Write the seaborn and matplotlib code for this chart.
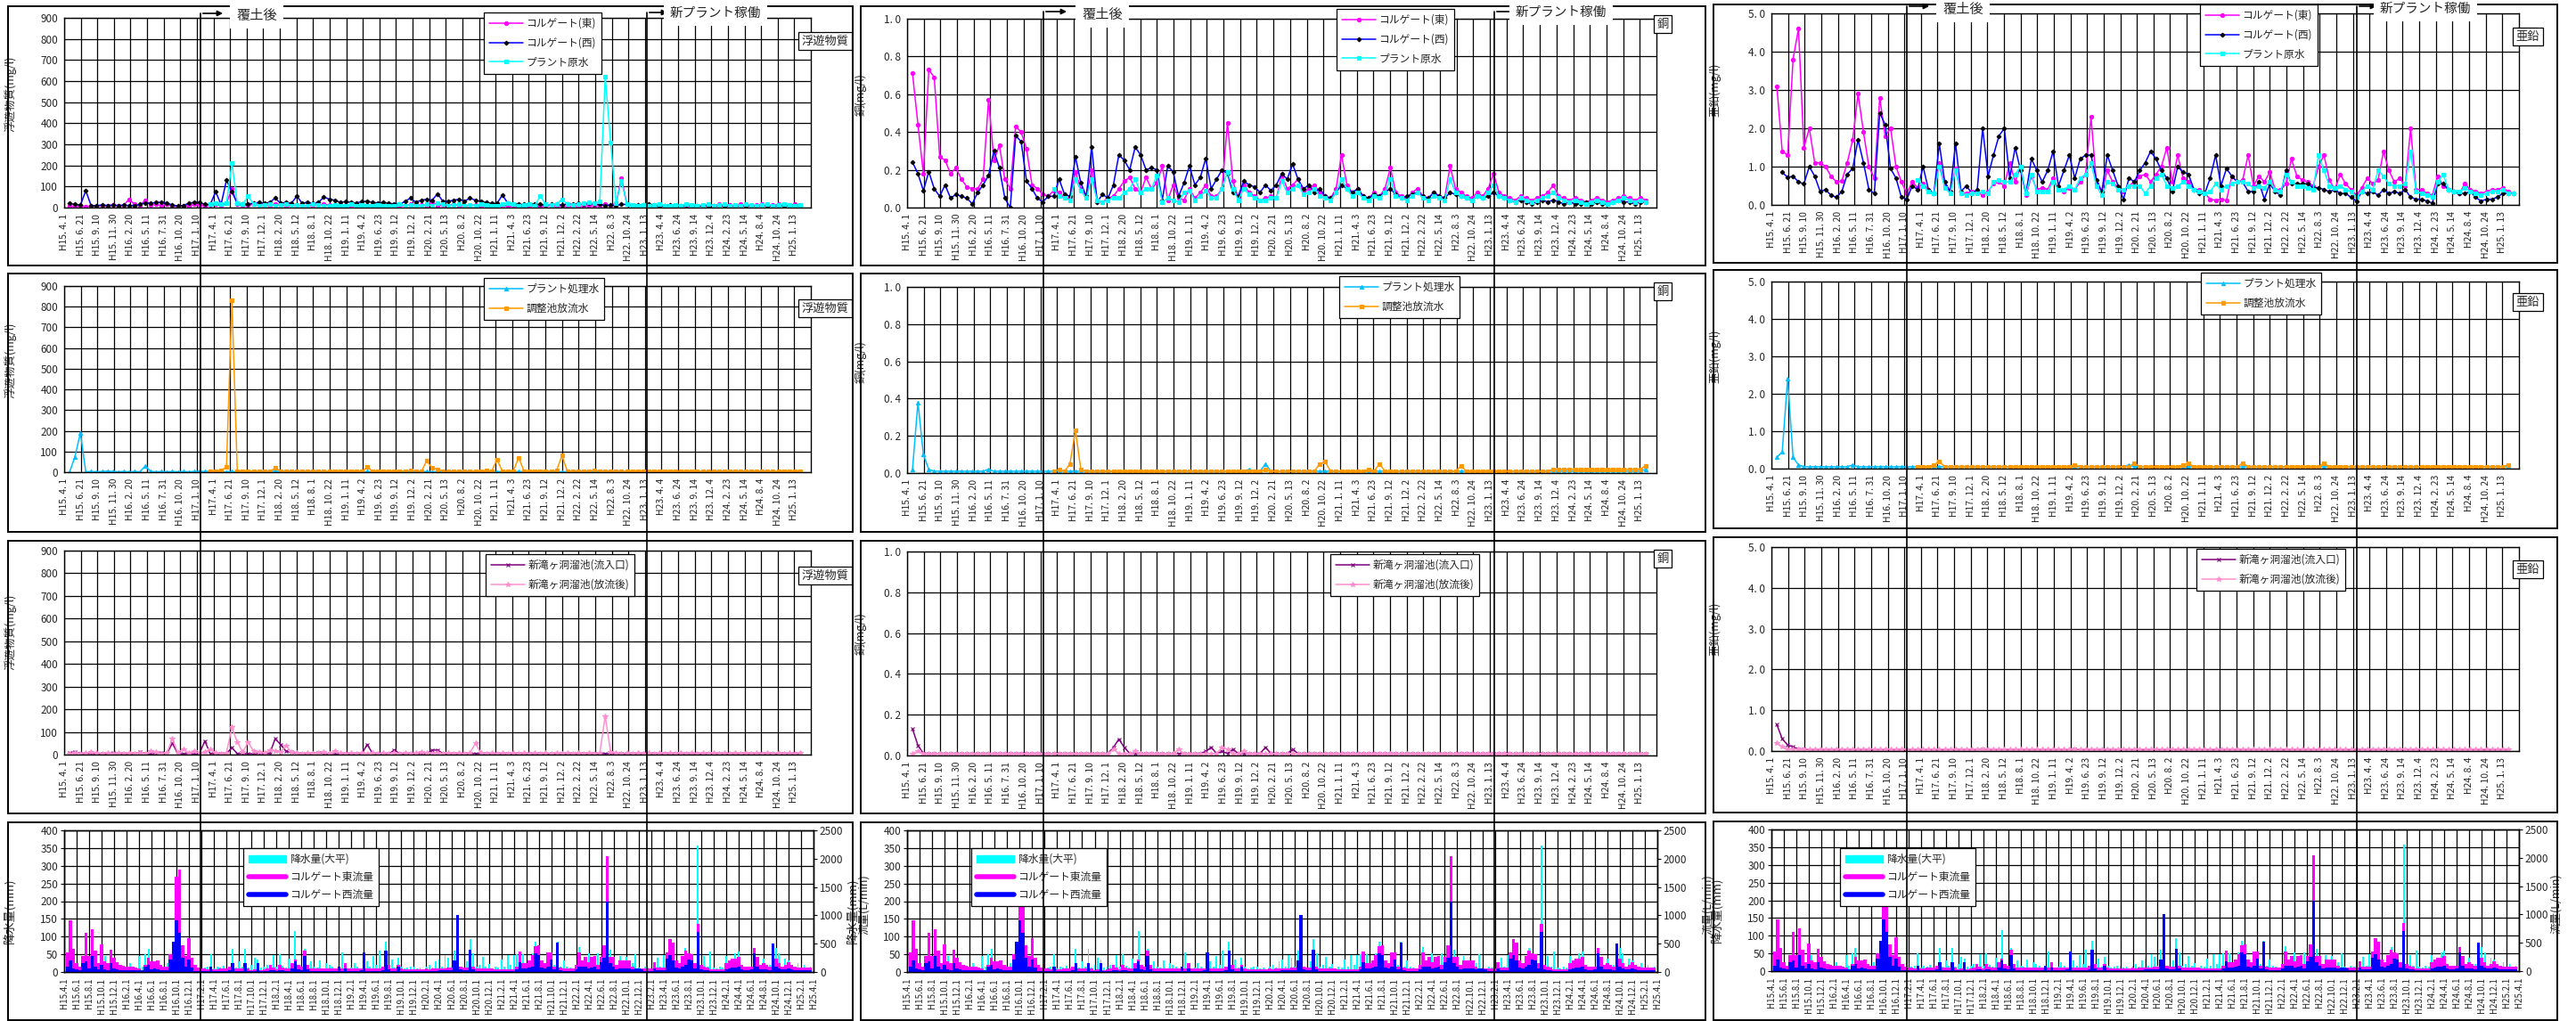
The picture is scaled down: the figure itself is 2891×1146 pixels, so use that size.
import numpy as np
import pandas as pd
import seaborn as sns
import matplotlib.pyplot as plt
from matplotlib.patches import Rectangle, Patch, FancyArrowPatch
from matplotlib.lines import Line2D

sns.set_theme(style="white")
plt.rcParams["font.family"] = ["Noto Sans CJK JP", "DejaVu Sans"]
plt.rcParams["axes.unicode_minus"] = False

W, H = 2891, 1146

# x tick labels of the water quality charts (one label every 81 days)
Q_LABELS = ["H15. 4. 1", "H15. 6. 21", "H15. 9. 10", "H15. 11. 30", "H16. 2. 20", "H16. 5. 11",
            "H16. 7. 31", "H16. 10. 20", "H17. 1. 10", "H17. 4. 1", "H17. 6. 21", "H17. 9. 10",
            "H17. 12. 1", "H18. 2. 20", "H18. 5. 12", "H18. 8. 1", "H18. 10. 22", "H19. 1. 11",
            "H19. 4. 2", "H19. 6. 23", "H19. 9. 12", "H19. 12. 2", "H20. 2. 21", "H20. 5. 13",
            "H20. 8. 2", "H20. 10. 22", "H21. 1. 11", "H21. 4. 3", "H21. 6. 23", "H21. 9. 12",
            "H21. 12. 2", "H22. 2. 22", "H22. 5. 14", "H22. 8. 3", "H22. 10. 24", "H23. 1. 13",
            "H23. 4. 4", "H23. 6. 24", "H23. 9. 14", "H23. 12. 4", "H24. 2. 23", "H24. 5. 14",
            "H24. 8. 4", "H24. 10. 24", "H25. 1. 13"]

# x tick labels of the rain / flow charts (every 2 months)
R_LABELS = ["H15.4.1", "H15.6.1", "H15.8.1", "H15.10.1", "H15.12.1",
            "H16.2.1", "H16.4.1", "H16.6.1", "H16.8.1", "H16.10.1", "H16.12.1",
            "H17.2.1", "H17.4.1", "H17.6.1", "H17.8.1", "H17.10.1", "H17.12.1",
            "H18.2.1", "H18.4.1", "H18.6.1", "H18.8.1", "H18.10.1", "H18.12.1",
            "H19.2.1", "H19.4.1", "H19.6.1", "H19.8.1", "H19.10.1", "H19.12.1",
            "H20.2.1", "H20.4.1", "H20.6.1", "H20.8.1", "H20.10.1", "H20.12.1",
            "H21.2.1", "H21.4.1", "H21.6.1", "H21.8.1", "H21.10.1", "H21.12.1",
            "H22.2.1", "H22.4.1", "H22.6.1", "H22.8.1", "H22.10.1", "H22.12.1",
            "H23.2.1", "H23.4.1", "H23.6.1", "H23.8.1", "H23.10.1", "H23.12.1",
            "H24.2.1", "H24.4.1", "H24.6.1", "H24.8.1", "H24.10.1", "H24.12.1",
            "H25.2.1", "H25.4.1"]

N = None
# ---------------- 浮遊物質 (mg/l), samples 3 per label interval ----------------
SS_EAST = [N, 8, 5, 10, 5, 8, 6, 10, 8, 12, 8, 10, 40, 15, 10,
           35, 12, 15, 10, 15, 8, 5, 10, 8, 15, 12, 10, 12, 15, 10,
           20, 90, 15, 10, 12, 15, 10, 12, 10, 15, 12, 10, 8, 12, 10,
           8, 10, 12, 15, 12, 10, 8, 12, 10, 8, 10, 12, 10, 8, 10,
           12, 10, 8, 10, 15, 10, 12, 10, 30, 10, 12, 10, 15, 10, 8,
           10, 12, 8, 10, 5, 8, 10, 8, 6, 5, 8, 10, 8, 6, 8,
           10, 5, 8, 6, 5, 8, 6, 10, 8, 10, 15, 10, 20, 140, 15,
           10, 8, 10, 8, 6, 8, 5, 8, 6, 5, 8, 6, 5, 8, 10,
           8, 15, 10, 12, 10, 15, 12, 10, 12, 15, 10, 12, 15, 10, 12,
           15, 12]
SS_WEST = [N, 20, 15, 12, 80, 8, 10, 12, 10, 12, 10, 12, 10, 10, 15,
           22, 20, 25, 25, 22, 12, 8, 10, 20, 25, 25, 15, 15, 75, 15,
           130, 75, 20, 15, 18, 20, 25, 20, 25, 45, 20, 25, 20, 55, 20,
           25, 20, 25, 50, 40, 35, 25, 28, 25, 22, 28, 30, 25, 22, 25,
           20, 18, 15, 30, 45, 25, 35, 40, 35, 65, 30, 30, 35, 40, 30,
           45, 35, 30, 25, 20, 20, 60, 20, 18, 15, 15, 18, 15, 15, 12,
           15, 15, 12, 18, 15, 20, 15, 20, 15, 15, 10, 12, 10, 15, 15,
           10, 12, 12, 15, 12, 10, 10, 12, 10, 10, 12, 10, 10, 8, 10,
           10, 8, 8, 10, 8, 8, 10, 10, 8, 10, 10, 8, 10, 8, 10,
           10, 10]
SS_RAW = [N, N, N, N, N, N, N, N, N, N, N, N, N, N, N,
          N, N, N, N, N, N, N, N, N, N, N, N, 15, 20, 15,
          20, 210, 20, 15, 55, 15, 10, 12, 15, 10, 12, 15, 10, 12, 8,
          10, 15, 12, 10, 8, 12, 10, 8, 15, 10, 12, 8, 10, 12, 10,
          8, 10, 15, 10, 12, 10, 8, 15, 10, 20, 15, 10, 12, 15, 10,
          12, 10, 15, 12, 10, 8, 15, 20, 15, 10, 12, 15, 10, 55, 15,
          12, 15, 40, 15, 12, 15, 20, 25, 20, 30, 620, 310, 20, 125, 15,
          12, 10, 12, 10, 12, 15, 10, 8, 12, 10, 15, 12, 10, 12, 15,
          10, 12, 15, 10, 12, 10, 15, 12, 10, 12, 15, 10, 12, 15, 12,
          10, 12]

SS_TREAT = [N, 0, 75, 190, 2, 3, 2, 3, 5, 3, 2, 3, 2, 3, 2,
            30, 3, 2, 3, 2, 3, 2, 3, 2, 3, 5, 3, 5, 3, 2,
            2, 3, 2, 2, 3, 2, 2, 3, 2, 5, 2, 2, 3, 2, 2,
            2, 3, 2, 2, 3, 2, 2, 2, 3, 2, 2, 3, 2, 2, 2,
            3, 2, 2, 3, 2, 2, 2, 3, 2, 2, 3, 2, 2, 2, 3,
            2, 2, 3, 2, 2, 2, 3, 2, 2, 3, 2, 2, 2, 3, 2,
            2, 3, 2, 2, 2, 3, 2, 2, 3, 2, 2, 2, 3, 2, 2,
            3, 2, 2, 2, 3, 2, 2, 3, 2, 2, 2, 3, 2, 2, 3,
            2, 2, 2, 3, 2, 2, 3, 2, 2, 2, 3, 2, 2, 3, 2,
            2, 3]
SS_POND = [N, N, N, N, N, N, N, N, N, N, N, N, N, N, N,
           N, N, N, N, N, N, N, N, N, N, N, N, 5, 5, 8,
           25, 830, 5, 5, 3, 5, 3, 5, 3, 20, 5, 3, 5, 3, 5,
           3, 5, 3, 5, 3, 5, 3, 5, 3, 5, 3, 25, 5, 3, 5,
           3, 5, 3, 5, 8, 5, 3, 55, 20, 15, 5, 3, 5, 3, 5,
           3, 5, 3, 8, 5, 60, 5, 3, 5, 70, 5, 3, 5, 3, 5,
           3, 8, 80, 5, 3, 5, 3, 5, 8, 5, 3, 5, 3, 5, 3,
           5, 3, 5, 3, 5, 3, 5, 3, 5, 3, 5, 3, 5, 3, 5,
           3, 5, 3, 5, 3, 5, 3, 5, 3, 5, 3, 5, 3, 5, 3,
           5, 3]

SS_IN = [N, 8, 12, 5, 3, 5, 3, 5, 3, 8, 5, 3, 5, 3, 10,
         5, 3, 5, 8, 5, 50, 5, 3, 5, 3, 5, 60, 5, 3, 5,
         5, 30, 5, 3, 5, 3, 5, 3, 5, 70, 45, 15, 10, 5, 5,
         3, 5, 8, 5, 3, 5, 3, 5, 3, 5, 3, 45, 5, 3, 5,
         3, 20, 5, 3, 5, 3, 5, 3, 20, 20, 5, 3, 5, 3, 5,
         3, 5, 3, 5, 3, 5, 3, 5, 3, 5, 3, 5, 3, 5, 3,
         5, 3, 5, 3, 5, 3, 5, 3, 5, 3, 5, 3, 5, 3, 5,
         3, 5, 3, 5, 3, 5, 3, 5, 3, 5, 3, 5, 3, 5, 3,
         5, 3, 5, 3, 5, 3, 5, 3, 5, 3, 5, 3, 5, 3, 5,
         3, 5]
SS_OUT = [N, 5, 8, 5, 8, 10, 8, 5, 8, 5, 8, 5, 8, 5, 8,
          5, 15, 10, 5, 8, 70, 8, 25, 8, 15, 8, 10, 25, 8, 5,
          8, 120, 55, 10, 55, 15, 10, 8, 20, 15, 10, 40, 10, 8, 5,
          8, 5, 8, 10, 5, 15, 8, 5, 8, 5, 8, 5, 8, 5, 8,
          5, 8, 5, 8, 5, 8, 10, 8, 5, 8, 5, 8, 5, 8, 5,
          8, 50, 8, 5, 8, 5, 8, 5, 8, 5, 8, 5, 8, 5, 8,
          5, 8, 5, 8, 5, 8, 5, 8, 5, 8, 170, 10, 8, 5, 8,
          5, 8, 5, 8, 5, 8, 5, 8, 5, 8, 5, 8, 5, 8, 5,
          8, 5, 8, 5, 8, 5, 8, 5, 8, 5, 8, 5, 8, 5, 8,
          5, 8]

# ---------------- 銅 (mg/l) ----------------
CU_EAST = [N, 0.71, 0.44, 0.18, 0.73, 0.69, 0.27, 0.25, 0.18, 0.21, 0.15, 0.11, 0.10, 0.10, 0.15,
           0.57, 0.25, 0.33, 0.15, 0.10, 0.43, 0.40, 0.31, 0.12, 0.10, 0.07, 0.06, 0.09, 0.08, 0.05,
           0.05, 0.19, 0.10, 0.06, 0.20, 0.04, 0.03, 0.05, 0.06, 0.10, 0.14, 0.16, 0.10, 0.08, 0.16,
           0.10, 0.13, 0.22, 0.04, 0.12, 0.05, 0.04, 0.10, 0.05, 0.08, 0.12, 0.06, 0.06, 0.10, 0.45,
           0.14, 0.05, 0.12, 0.08, 0.06, 0.04, 0.05, 0.06, 0.05, 0.17, 0.10, 0.12, 0.15, 0.08, 0.10,
           0.12, 0.08, 0.06, 0.05, 0.10, 0.28, 0.12, 0.08, 0.10, 0.06, 0.05, 0.08, 0.06, 0.10, 0.21,
           0.08, 0.06, 0.05, 0.08, 0.10, 0.06, 0.05, 0.08, 0.06, 0.05, 0.22, 0.10, 0.08, 0.06, 0.05,
           0.08, 0.06, 0.10, 0.18, 0.08, 0.06, 0.05, 0.04, 0.06, 0.05, 0.04, 0.05, 0.06, 0.08, 0.12,
           0.06, 0.05, 0.04, 0.05, 0.04, 0.03, 0.04, 0.05, 0.04, 0.03, 0.04, 0.05, 0.06, 0.05, 0.04,
           0.05, 0.04]
CU_WEST = [N, 0.24, 0.18, 0.09, 0.19, 0.10, 0.06, 0.12, 0.05, 0.07, 0.06, 0.05, 0.02, 0.08, 0.12,
           0.17, 0.30, 0.21, 0.05, 0.00, 0.38, 0.35, 0.14, 0.10, 0.05, 0.03, 0.06, 0.06, 0.15, 0.07,
           0.06, 0.27, 0.13, 0.06, 0.32, 0.03, 0.07, 0.05, 0.12, 0.28, 0.25, 0.20, 0.32, 0.28, 0.20,
           0.21, 0.20, 0.04, 0.22, 0.19, 0.06, 0.13, 0.22, 0.12, 0.16, 0.26, 0.10, 0.15, 0.20, 0.18,
           0.08, 0.06, 0.14, 0.12, 0.11, 0.08, 0.12, 0.09, 0.12, 0.18, 0.15, 0.23, 0.15, 0.10, 0.12,
           0.08, 0.10, 0.06, 0.05, 0.08, 0.12, 0.10, 0.08, 0.10, 0.06, 0.05, 0.07, 0.06, 0.08, 0.10,
           0.07, 0.05, 0.06, 0.07, 0.08, 0.06, 0.05, 0.08, 0.06, 0.05, 0.08, 0.07, 0.06, 0.05, 0.04,
           0.06, 0.05, 0.06, 0.08, 0.06, 0.05, 0.04, 0.03, 0.04, 0.03, 0.02, 0.03, 0.04, 0.03, 0.04,
           0.03, 0.02, 0.03, 0.02, 0.02, 0.03, 0.02, 0.03, 0.02, 0.02, 0.03, 0.04, 0.03, 0.03, 0.02,
           0.03, 0.03]
CU_RAW = [N, N, N, N, N, N, N, N, N, N, N, N, N, N, N,
          N, N, N, N, N, N, N, N, N, N, N, N, 0.10, 0.06, 0.05,
          0.04, 0.15, 0.09, 0.05, 0.15, 0.04, 0.03, 0.04, 0.05, 0.05, 0.08, 0.10, 0.15, 0.08, 0.10,
          0.10, 0.17, 0.03, 0.05, 0.04, 0.03, 0.08, 0.09, 0.04, 0.06, 0.09, 0.05, 0.05, 0.10, 0.19,
          0.10, 0.04, 0.10, 0.07, 0.05, 0.04, 0.04, 0.05, 0.05, 0.14, 0.08, 0.10, 0.12, 0.07, 0.08,
          0.10, 0.06, 0.05, 0.04, 0.08, 0.15, 0.10, 0.06, 0.08, 0.05, 0.04, 0.06, 0.05, 0.08, 0.15,
          0.06, 0.05, 0.04, 0.06, 0.08, 0.05, 0.04, 0.06, 0.05, 0.04, 0.15, 0.08, 0.06, 0.05, 0.04,
          0.06, 0.05, 0.08, 0.12, 0.06, 0.05, 0.04, 0.03, 0.05, 0.04, 0.03, 0.04, 0.05, 0.06, 0.08,
          0.05, 0.04, 0.03, 0.04, 0.03, 0.02, 0.03, 0.04, 0.03, 0.02, 0.03, 0.04, 0.05, 0.04, 0.03,
          0.04, 0.03]

CU_TREAT = [N, 0.02, 0.38, 0.10, 0.02, 0.01, 0.01, 0.01, 0.01, 0.01, 0.01, 0.01, 0.01, 0.01, 0.01,
            0.02, 0.01, 0.01, 0.01, 0.01, 0.01, 0.01, 0.01, 0.01, 0.01, 0.01, 0.01, 0.01, 0.01, 0.01,
            0.01, 0.01, 0.01, 0.01, 0.01, 0.01, 0.01, 0.01, 0.01, 0.01, 0.01, 0.01, 0.01, 0.01, 0.01,
            0.01, 0.01, 0.01, 0.01, 0.01, 0.01, 0.01, 0.01, 0.01, 0.01, 0.01, 0.01, 0.01, 0.01, 0.01,
            0.01, 0.01, 0.01, 0.02, 0.01, 0.01, 0.05, 0.01, 0.01, 0.01, 0.01, 0.01, 0.01, 0.01, 0.01,
            0.01, 0.01, 0.01, 0.01, 0.01, 0.01, 0.01, 0.01, 0.01, 0.01, 0.01, 0.01, 0.01, 0.01, 0.01,
            0.01, 0.01, 0.01, 0.01, 0.01, 0.01, 0.01, 0.01, 0.01, 0.01, 0.01, 0.01, 0.01, 0.01, 0.01,
            0.01, 0.01, 0.01, 0.01, 0.01, 0.01, 0.01, 0.01, 0.01, 0.01, 0.01, 0.01, 0.01, 0.01, 0.01,
            0.01, 0.01, 0.01, 0.01, 0.01, 0.01, 0.01, 0.01, 0.01, 0.01, 0.01, 0.01, 0.01, 0.01, 0.01,
            0.01, 0.02]
CU_POND = [N, N, N, N, N, N, N, N, N, N, N, N, N, N, N,
           N, N, N, N, N, N, N, N, N, N, N, N, 0.01, 0.02, 0.01,
           0.05, 0.23, 0.02, 0.01, 0.01, 0.01, 0.01, 0.01, 0.01, 0.01, 0.01, 0.01, 0.01, 0.01, 0.01,
           0.01, 0.01, 0.01, 0.01, 0.01, 0.01, 0.01, 0.01, 0.01, 0.01, 0.01, 0.01, 0.01, 0.01, 0.01,
           0.01, 0.01, 0.01, 0.01, 0.01, 0.01, 0.02, 0.01, 0.01, 0.01, 0.01, 0.01, 0.01, 0.01, 0.01,
           0.01, 0.05, 0.06, 0.01, 0.01, 0.01, 0.01, 0.01, 0.01, 0.01, 0.02, 0.01, 0.05, 0.01, 0.01,
           0.01, 0.01, 0.01, 0.01, 0.01, 0.01, 0.01, 0.01, 0.01, 0.01, 0.01, 0.01, 0.04, 0.01, 0.01,
           0.01, 0.01, 0.01, 0.01, 0.01, 0.01, 0.01, 0.01, 0.01, 0.01, 0.01, 0.01, 0.01, 0.01, 0.02,
           0.02, 0.02, 0.02, 0.02, 0.02, 0.02, 0.02, 0.02, 0.02, 0.02, 0.02, 0.02, 0.02, 0.02, 0.02,
           0.02, 0.04]

CU_IN = [N, 0.13, 0.05, 0.01, 0.01, 0.01, 0.01, 0.01, 0.01, 0.01, 0.01, 0.01, 0.01, 0.01, 0.01,
         0.01, 0.01, 0.01, 0.01, 0.01, 0.01, 0.01, 0.01, 0.01, 0.01, 0.01, 0.01, 0.01, 0.01, 0.01,
         0.01, 0.01, 0.01, 0.01, 0.01, 0.01, 0.01, 0.01, 0.04, 0.08, 0.04, 0.01, 0.01, 0.01, 0.01,
         0.01, 0.01, 0.01, 0.01, 0.01, 0.01, 0.01, 0.01, 0.01, 0.01, 0.02, 0.04, 0.01, 0.02, 0.01,
         0.03, 0.01, 0.01, 0.01, 0.01, 0.01, 0.04, 0.01, 0.01, 0.01, 0.01, 0.03, 0.01, 0.01, 0.01,
         0.01, 0.01, 0.01, 0.01, 0.01, 0.01, 0.01, 0.01, 0.01, 0.01, 0.01, 0.01, 0.01, 0.01, 0.01,
         0.01, 0.01, 0.01, 0.01, 0.01, 0.01, 0.01, 0.01, 0.01, 0.01, 0.01, 0.01, 0.01, 0.01, 0.01,
         0.01, 0.01, 0.01, 0.01, 0.01, 0.01, 0.01, 0.01, 0.01, 0.01, 0.01, 0.01, 0.01, 0.01, 0.01,
         0.01, 0.01, 0.01, 0.01, 0.01, 0.01, 0.01, 0.01, 0.01, 0.01, 0.01, 0.01, 0.01, 0.01, 0.01,
         0.01, 0.01]
CU_OUT = [N, 0.01, 0.02, 0.01, 0.01, 0.01, 0.01, 0.01, 0.01, 0.01, 0.01, 0.01, 0.01, 0.01, 0.01,
          0.01, 0.01, 0.01, 0.01, 0.01, 0.01, 0.01, 0.01, 0.01, 0.01, 0.01, 0.01, 0.01, 0.01, 0.01,
          0.01, 0.01, 0.01, 0.01, 0.01, 0.01, 0.01, 0.01, 0.03, 0.01, 0.01, 0.01, 0.02, 0.01, 0.01,
          0.01, 0.01, 0.01, 0.01, 0.01, 0.03, 0.01, 0.01, 0.01, 0.01, 0.01, 0.01, 0.01, 0.04, 0.03,
          0.01, 0.01, 0.02, 0.01, 0.01, 0.01, 0.01, 0.01, 0.01, 0.01, 0.01, 0.01, 0.01, 0.01, 0.01,
          0.01, 0.01, 0.01, 0.01, 0.01, 0.01, 0.01, 0.01, 0.01, 0.01, 0.01, 0.01, 0.01, 0.01, 0.01,
          0.01, 0.01, 0.01, 0.01, 0.01, 0.01, 0.01, 0.01, 0.01, 0.01, 0.01, 0.01, 0.01, 0.01, 0.01,
          0.01, 0.01, 0.01, 0.01, 0.01, 0.01, 0.01, 0.01, 0.01, 0.01, 0.01, 0.01, 0.01, 0.01, 0.01,
          0.01, 0.01, 0.01, 0.01, 0.01, 0.01, 0.01, 0.01, 0.01, 0.01, 0.01, 0.01, 0.01, 0.01, 0.01,
          0.01, 0.01]

# ---------------- 亜鉛 (mg/l) ----------------
ZN_EAST = [N, 3.1, 1.4, 1.3, 3.8, 4.6, 1.5, 2.0, 1.1, 1.1, 1.0, 0.75, 0.6, 0.62, 1.1,
           1.7, 2.9, 1.9, 1.0, 0.7, 2.8, 1.8, 2.0, 1.0, 0.6, 0.3, 0.6, 0.45, 0.55, 0.4,
           0.3, 1.1, 0.5, 0.35, 0.95, 0.3, 0.3, 0.35, 0.35, 0.25, 0.35, 0.55, 0.6, 0.5, 1.1,
           0.6, 1.0, 0.25, 0.75, 0.4, 0.45, 0.4, 0.7, 0.4, 0.35, 0.45, 0.4, 0.6, 0.8, 2.3,
           0.55, 0.35, 0.9, 0.6, 0.45, 0.35, 0.5, 0.6, 0.75, 0.8, 0.6, 0.8, 1.0, 1.5, 0.6,
           1.3, 0.7, 0.6, 0.4, 0.4, 0.3, 0.15, 0.12, 0.15, 0.12, 0.75, 0.6, 0.65, 1.3, 0.5,
           0.75, 0.6, 0.85, 0.4, 0.4, 0.55, 1.2, 0.75, 0.65, 0.6, 0.5, 1.0, 1.3, 0.65, 0.4,
           0.8, 0.55, 0.4, 0.25, 0.45, 0.7, 0.55, 0.65, 1.4, 0.9, 0.6, 0.7, 0.5, 2.0, 0.4,
           0.4, 0.3, 0.25, 0.75, 0.5, 0.4, 0.35, 0.3, 0.55, 0.4, 0.35, 0.3, 0.35, 0.4, 0.4,
           0.45, 0.35, 0.3]
ZN_WEST = [N, N, 0.85, 0.72, 0.75, 0.6, 0.55, 1.0, 0.75, 0.35, 0.4, 0.25, 0.2, 0.35, 0.8,
           0.95, 1.7, 1.1, 0.4, 0.3, 2.4, 2.1, 0.95, 0.7, 0.2, 0.15, 0.5, 0.4, 1.0, 0.4,
           0.3, 1.6, 0.6, 0.35, 1.6, 0.35, 0.5, 0.3, 0.4, 2.0, 0.75, 1.3, 1.8, 2.0, 0.7,
           1.5, 0.9, 0.3, 1.2, 0.9, 0.6, 0.9, 1.4, 0.5, 0.9, 1.3, 0.7, 1.2, 1.3, 1.3,
           0.65, 0.35, 1.3, 0.9, 0.5, 0.15, 0.7, 0.6, 0.9, 1.1, 1.4, 1.2, 0.9, 0.7, 0.35,
           1.0, 0.85, 0.8, 0.4, 0.3, 0.3, 0.7, 1.3, 0.5, 0.95, 0.75, 0.6, 0.6, 0.35, 0.35,
           0.6, 0.15, 0.55, 0.35, 0.25, 0.9, 0.55, 0.55, 0.55, 0.55, 0.45, 0.45, 0.4, 0.35, 0.4,
           0.3, 0.3, 0.2, 0.1, 0.35, 0.3, 0.35, 0.25, 0.4, 0.3, 0.35, 0.3, 0.4, 0.2, 0.15,
           0.15, 0.1, 0.05, 0.55, 0.55, 0.4, 0.35, 0.3, 0.3, 0.35, 0.2, 0.1, 0.15, 0.15, 0.2,
           0.3, 0.3, 0.3]
ZN_RAW = [N, N, N, N, N, N, N, N, N, N, N, N, N, N, N,
          N, N, N, N, N, N, N, N, N, N, N, N, 0.65, 0.5, 0.35,
          0.3, 1.0, 0.45, 0.3, 0.9, 0.3, 0.25, 0.3, 0.3, 0.35, 0.3, 0.6, 0.65, 0.6, 0.6,
          0.8, 1.0, 0.3, 0.8, 0.35, 0.35, 0.35, 0.6, 0.4, 0.4, 0.5, 0.4, 0.7, 0.8, 1.1,
          0.5, 0.25, 0.6, 0.55, 0.4, 0.4, 0.5, 0.5, 0.5, 0.3, 0.5, 0.7, 0.8, 0.5, 0.45,
          0.5, 0.6, 0.5, 0.4, 0.35, 0.3, 0.35, 0.55, 0.4, 0.5, 0.55, 0.6, 0.6, 0.55, 0.45,
          0.5, 0.45, 0.6, 0.4, 0.35, 0.8, 0.6, 0.5, 0.5, 0.45, 0.4, 1.3, 0.9, 0.5, 0.45,
          0.5, 0.4, 0.35, 0.2, 0.35, 0.5, 0.4, 0.9, 0.75, 0.55, 0.5, 0.5, 0.55, 1.4, 0.35,
          0.3, 0.25, 0.2, 0.6, 0.8, 0.4, 0.35, 0.35, 0.45, 0.35, 0.3, 0.25, 0.3, 0.35, 0.35,
          0.4, 0.3, 0.3]

ZN_TREAT = [N, 0.3, 0.45, 2.4, 0.3, 0.1, 0.05, 0.05, 0.05, 0.05, 0.05, 0.05, 0.05, 0.05, 0.05,
            0.1, 0.05, 0.05, 0.05, 0.05, 0.05, 0.05, 0.05, 0.05, 0.05, 0.05, 0.05, 0.05, 0.05, 0.05,
            0.05, 0.05, 0.05, 0.05, 0.05, 0.05, 0.05, 0.05, 0.05, 0.05, 0.05, 0.05, 0.05, 0.05, 0.05,
            0.05, 0.05, 0.05, 0.05, 0.05, 0.05, 0.05, 0.05, 0.05, 0.05, 0.05, 0.05, 0.05, 0.05, 0.05,
            0.05, 0.05, 0.05, 0.05, 0.05, 0.05, 0.1, 0.05, 0.05, 0.05, 0.05, 0.05, 0.05, 0.05, 0.05,
            0.05, 0.05, 0.05, 0.05, 0.05, 0.05, 0.05, 0.05, 0.05, 0.05, 0.05, 0.05, 0.05, 0.05, 0.05,
            0.05, 0.05, 0.05, 0.05, 0.05, 0.05, 0.05, 0.05, 0.05, 0.05, 0.05, 0.05, 0.05, 0.05, 0.05,
            0.05, 0.05, 0.05, 0.05, 0.05, 0.05, 0.05, 0.05, 0.05, 0.05, 0.05, 0.05, 0.05, 0.05, 0.05,
            0.05, 0.05, 0.05, 0.05, 0.05, 0.05, 0.05, 0.05, 0.05, 0.05, 0.05, 0.05, 0.05, 0.05, 0.05,
            0.05, 0.05]
ZN_POND = [N, N, N, N, N, N, N, N, N, N, N, N, N, N, N,
           N, N, N, N, N, N, N, N, N, N, N, N, 0.05, 0.05, 0.05,
           0.1, 0.2, 0.05, 0.05, 0.05, 0.05, 0.05, 0.05, 0.05, 0.05, 0.05, 0.05, 0.05, 0.05, 0.05,
           0.05, 0.05, 0.05, 0.05, 0.05, 0.05, 0.05, 0.05, 0.05, 0.05, 0.05, 0.1, 0.05, 0.05, 0.05,
           0.05, 0.05, 0.05, 0.05, 0.05, 0.05, 0.05, 0.15, 0.05, 0.05, 0.05, 0.05, 0.05, 0.05, 0.05,
           0.05, 0.1, 0.15, 0.05, 0.05, 0.05, 0.05, 0.05, 0.05, 0.05, 0.05, 0.05, 0.15, 0.05, 0.05,
           0.05, 0.05, 0.05, 0.05, 0.05, 0.05, 0.05, 0.05, 0.05, 0.05, 0.05, 0.05, 0.15, 0.05, 0.05,
           0.05, 0.05, 0.05, 0.05, 0.05, 0.05, 0.05, 0.05, 0.05, 0.05, 0.05, 0.05, 0.05, 0.05, 0.05,
           0.05, 0.05, 0.05, 0.05, 0.05, 0.05, 0.05, 0.05, 0.05, 0.05, 0.05, 0.05, 0.05, 0.05, 0.05,
           0.05, 0.1]

ZN_IN = [N, 0.65, 0.3, 0.15, 0.1, 0.05, 0.05, 0.03, 0.03, 0.03, 0.03, 0.03, 0.03, 0.03, 0.03,
         0.03, 0.03, 0.03, 0.03, 0.03, 0.03, 0.03, 0.03, 0.03, 0.03, 0.03, 0.03, 0.03, 0.03, 0.03,
         0.03, 0.03, 0.03, 0.03, 0.03, 0.03, 0.03, 0.03, 0.03, 0.05, 0.03, 0.03, 0.03, 0.03, 0.03,
         0.03, 0.03, 0.03, 0.03, 0.03, 0.03, 0.03, 0.03, 0.03, 0.03, 0.03, 0.05, 0.03, 0.03, 0.03,
         0.03, 0.03, 0.03, 0.03, 0.03, 0.03, 0.03, 0.03, 0.03, 0.03, 0.03, 0.03, 0.03, 0.03, 0.03,
         0.03, 0.03, 0.03, 0.03, 0.03, 0.03, 0.03, 0.03, 0.03, 0.03, 0.03, 0.03, 0.03, 0.03, 0.03,
         0.03, 0.03, 0.03, 0.03, 0.03, 0.03, 0.03, 0.03, 0.03, 0.03, 0.03, 0.03, 0.03, 0.03, 0.03,
         0.03, 0.03, 0.03, 0.03, 0.03, 0.03, 0.03, 0.03, 0.03, 0.03, 0.03, 0.03, 0.03, 0.03, 0.03,
         0.03, 0.03, 0.03, 0.03, 0.03, 0.03, 0.03, 0.03, 0.03, 0.03, 0.03, 0.03, 0.03, 0.03, 0.03,
         0.03, 0.03]
ZN_OUT = [N, 0.2, 0.1, 0.05, 0.05, 0.05, 0.05, 0.05, 0.05, 0.05, 0.05, 0.05, 0.05, 0.05, 0.05,
          0.05, 0.05, 0.05, 0.05, 0.05, 0.05, 0.05, 0.05, 0.05, 0.05, 0.05, 0.05, 0.05, 0.05, 0.05,
          0.05, 0.05, 0.05, 0.05, 0.05, 0.05, 0.05, 0.05, 0.05, 0.05, 0.05, 0.05, 0.05, 0.05, 0.05,
          0.05, 0.05, 0.05, 0.05, 0.05, 0.05, 0.05, 0.05, 0.05, 0.05, 0.05, 0.05, 0.05, 0.05, 0.05,
          0.05, 0.05, 0.05, 0.05, 0.05, 0.05, 0.05, 0.05, 0.05, 0.05, 0.05, 0.05, 0.05, 0.05, 0.05,
          0.05, 0.05, 0.05, 0.05, 0.05, 0.05, 0.05, 0.05, 0.05, 0.05, 0.05, 0.05, 0.05, 0.05, 0.05,
          0.05, 0.05, 0.05, 0.05, 0.05, 0.05, 0.05, 0.05, 0.05, 0.05, 0.05, 0.05, 0.05, 0.05, 0.05,
          0.05, 0.05, 0.05, 0.05, 0.05, 0.05, 0.05, 0.05, 0.05, 0.05, 0.05, 0.05, 0.05, 0.05, 0.05,
          0.05, 0.05, 0.05, 0.05, 0.05, 0.05, 0.05, 0.05, 0.05, 0.05, 0.05, 0.05, 0.05, 0.05, 0.05,
          0.05, 0.05]

# ---------------- rain (mm) and flows (L/min), two values per month ----------------
RAIN_MM = [5, 20, 8, 10, 5, 12, 8, 30, 10, 40, 35, 25, 10, 45, 15, 10, 8, 12, 5, 10,
           8, 25, 10, 12, 45, 15, 50, 65, 20, 30, 15, 10, 12, 25, 30, 15, 20, 10, 15, 10,
           8, 12, 5, 10, 8, 12, 15, 50, 10, 15, 12, 18, 10, 15, 65, 12, 30, 15, 65, 12,
           20, 40, 35, 12, 15, 20, 10, 48, 15, 50, 18, 12, 38, 15, 115, 20, 15, 65, 12, 30,
           15, 12, 32, 10, 25, 20, 15, 10, 12, 55, 15, 10, 12, 25, 15, 10, 12, 30, 15, 45,
           20, 60, 15, 85, 15, 35, 12, 40, 15, 10, 12, 15, 15, 10, 12, 8, 15, 20, 12, 30,
           35, 15, 48, 40, 15, 61, 20, 15, 12, 30, 93, 54, 15, 20, 42, 15, 23, 10, 15, 12,
           36, 15, 48, 20, 48, 51, 15, 51, 20, 15, 53, 86, 15, 12, 20, 53, 15, 20, 85, 15,
           32, 15, 12, 10, 15, 71, 20, 42, 54, 15, 20, 54, 15, 20, 12, 63, 20, 15, 46, 15,
           42, 15, 26, 50, 12, 10, 15, 12, 10, 15, 40, 15, 48, 54, 15, 20, 12, 15, 40, 68,
           15, 20, 12, 358, 20, 45, 15, 59, 12, 10, 15, 12, 46, 15, 20, 54, 59, 15, 12, 10,
           15, 12, 42, 15, 38, 15, 20, 12, 67, 53, 15, 38, 32, 12, 15, 24, 12, 21, 10, 15]
EAST_FLOW = [0, 344, 906, 406, 156, 94, 280, 690, 280, 750, 375, 156, 490, 190, 156, 390, 250, 175, 125, 110,
             94, 94, 94, 75, 62, 31, 125, 250, 190, 190, 200, 125, 94, 94, 312, 312, 1690, 1810, 470, 280,
             590, 250, 125, 75, 62, 60, 55, 60, 50, 55, 60, 62, 62, 94, 156, 62, 62, 62, 140, 62,
             31, 50, 62, 31, 50, 62, 125, 75, 50, 125, 75, 62, 62, 156, 220, 125, 94, 375, 125, 62,
             62, 62, 62, 62, 62, 62, 62, 62, 94, 62, 156, 62, 62, 62, 62, 62, 344, 62, 62, 62,
             62, 62, 94, 375, 125, 62, 62, 125, 62, 55, 55, 50, 50, 55, 50, 55, 60, 55, 60, 62,
             65, 70, 70, 75, 80, 200, 200, 100, 80, 80, 400, 100, 60, 60, 60, 60, 60, 60, 50, 50,
             50, 50, 50, 50, 50, 100, 360, 150, 150, 200, 300, 450, 470, 200, 150, 340, 340, 100, 520, 80,
             60, 60, 60, 60, 120, 350, 200, 260, 180, 260, 280, 120, 270, 470, 2050, 260, 260, 120, 200, 200,
             200, 200, 100, 70, 70, 70, 60, 60, 60, 180, 80, 80, 80, 340, 580, 520, 200, 150, 280, 380,
             330, 320, 150, 850, 120, 100, 80, 50, 50, 50, 50, 50, 150, 210, 230, 230, 260, 130, 100, 100,
             100, 430, 260, 120, 150, 120, 100, 500, 230, 150, 100, 120, 170, 120, 90, 80, 80, 80, 80, 80]
WEST_FLOW = [0, 100, 206, 62, 40, 30, 156, 190, 60, 280, 94, 40, 125, 40, 30, 156, 62, 40, 31, 31,
             31, 31, 31, 31, 31, 31, 94, 125, 40, 62, 40, 30, 30, 30, 220, 530, 906, 690, 250, 100,
             220, 80, 20, 20, 20, 20, 20, 94, 20, 20, 20, 20, 20, 30, 156, 20, 20, 20, 156, 20,
             20, 20, 156, 20, 20, 20, 30, 30, 20, 30, 30, 20, 20, 60, 190, 40, 30, 280, 40, 20,
             20, 20, 20, 20, 20, 20, 20, 20, 94, 20, 60, 20, 20, 20, 20, 30, 344, 20, 20, 20,
             20, 20, 30, 375, 40, 20, 20, 94, 20, 20, 20, 20, 20, 20, 20, 20, 20, 20, 20, 20,
             25, 25, 30, 30, 30, 200, 1000, 40, 30, 30, 400, 40, 20, 20, 20, 20, 20, 20, 20, 20,
             20, 20, 20, 20, 20, 40, 180, 60, 60, 80, 100, 330, 300, 80, 60, 100, 220, 40, 520, 30,
             20, 20, 20, 20, 40, 100, 100, 100, 60, 80, 100, 40, 180, 250, 1240, 150, 100, 40, 60, 60,
             60, 60, 40, 70, 70, 40, 20, 20, 20, 60, 30, 30, 30, 240, 300, 200, 80, 60, 100, 120,
             220, 200, 60, 700, 40, 30, 30, 20, 20, 20, 20, 20, 50, 60, 80, 80, 100, 40, 30, 30,
             40, 330, 100, 40, 50, 40, 30, 500, 100, 60, 40, 50, 60, 40, 30, 30, 30, 30, 30, 30]

# series styles
C_EAST, C_WEST, C_RAW = "#FF00FF", "#0000FF", "#00FFFF"
C_TREAT, C_POND = "#00BFFF", "#FF9900"
C_IN, C_OUT = "#800080", "#FF8FCF"

fig = plt.figure(figsize=(W / 100, H / 100), dpi=100)
fig.patch.set_facecolor("white")


def px_axes(x0, y0, x1, y1):
    return fig.add_axes([x0 / W, 1 - y1 / H, (x1 - x0) / W, (y1 - y0) / H])


def frame(x0, y0, x1, y1):
    fig.add_artist(Rectangle((x0 / W, 1 - y1 / H), (x1 - x0) / W, (y1 - y0) / H,
                             transform=fig.transFigure, fill=False, ec="black", lw=1.4, zorder=1))


def box_text(x, y, s, size, border=True):
    fig.text(x / W, 1 - y / H, s, ha="center", va="center", fontsize=size, zorder=6,
             bbox=dict(boxstyle="square,pad=0.25", fc="white",
                       ec="black" if border else "none", lw=0.9))


Q_TICKS = [k * 138 / 45 for k in range(45)]


def quality_panel(rect, series, ymax, yticks, ylabels, ylabel, ylab_xy, leg_xy):
    ax = px_axes(*rect)
    for vals, color, marker, mcol, ms, label in series:
        d = pd.DataFrame({"x": np.arange(len(vals)), "y": vals}).dropna()
        sns.lineplot(data=d, x="x", y="y", ax=ax, color=color, lw=1.1, marker=marker,
                     ms=ms, mfc=mcol, mec=mcol, mew=0.8, errorbar=None, label=label)
    ax.set_xlim(0, 138)
    ax.set_ylim(0, ymax)
    ax.set_xticks(Q_TICKS)
    ax.set_xticklabels(Q_LABELS, rotation=90, fontsize=7.5)
    ax.set_yticks(yticks)
    ax.set_yticklabels(ylabels, fontsize=8.5)
    ax.set_xlabel("")
    ax.set_ylabel(ylabel, fontsize=9)
    ax.yaxis.set_label_coords(*ylab_xy)
    ax.grid(True, color="black", lw=0.9)
    ax.tick_params(length=3, width=0.8, color="black", pad=2)
    for s in ax.spines.values():
        s.set_color("black")
        s.set_linewidth(1.0)
    leg = ax.legend(loc="upper left", bbox_to_anchor=(leg_xy[0] / W, 1 - leg_xy[1] / H),
                    bbox_transform=fig.transFigure, fontsize=8.5, frameon=True, fancybox=False,
                    edgecolor="black", framealpha=1, handlelength=3.2, borderpad=0.5,
                    labelspacing=0.75, handletextpad=0.3, borderaxespad=0)
    leg.get_frame().set_linewidth(0.9)
    return ax


def flow_panel(rect, leg_xy, right_lab_x):
    ax = px_axes(*rect)
    sns.barplot(x=np.arange(len(RAIN_MM)), y=RAIN_MM, native_scale=True, orient="x",
                color=C_RAW, width=0.55, saturation=1, errorbar=None, linewidth=0, ax=ax)
    ax2 = ax.twinx()
    sns.barplot(x=np.arange(len(EAST_FLOW)), y=EAST_FLOW, native_scale=True, orient="x",
                color=C_EAST, width=1.0, saturation=1, errorbar=None, linewidth=0, ax=ax2)
    sns.barplot(x=np.arange(len(WEST_FLOW)), y=WEST_FLOW, native_scale=True, orient="x",
                color=C_WEST, width=1.0, saturation=1, errorbar=None, linewidth=0, ax=ax2)
    ax.set_xlim(0, 240)
    ax.set_ylim(0, 400)
    ax2.set_ylim(0, 2500)
    ax.set_xticks(range(0, 241, 4))
    ax.set_xticklabels(R_LABELS, rotation=90, fontsize=7)
    ax.set_yticks(range(0, 401, 50))
    ax.set_yticklabels([str(v) for v in range(0, 401, 50)], fontsize=8.5)
    ax2.set_yticks(range(0, 2501, 500))
    ax2.set_yticklabels([str(v) for v in range(0, 2501, 500)], fontsize=8.5)
    ax.set_xlabel("")
    ax2.set_xlabel("")
    ax.set_ylabel("降水量(mm)", fontsize=9.5)
    ax.yaxis.set_label_coords(-0.064, 0.43)
    ax2.set_ylabel("流量(L/min)", fontsize=9)
    ax2.yaxis.set_label_coords(right_lab_x, 0.48)
    ax.grid(True, color="black", lw=0.9)
    ax2.grid(False)
    for a in (ax, ax2):
        a.tick_params(length=3, width=0.8, color="black", pad=2)
        for s in a.spines.values():
            s.set_color("black")
            s.set_linewidth(1.0)
    handles = [Patch(color=C_RAW), Line2D([], [], color=C_EAST, lw=4),
               Line2D([], [], color=C_WEST, lw=4)]
    leg = ax2.legend(handles, ["降水量(大平)", "コルゲート東流量", "コルゲート西流量"],
                     loc="upper left", bbox_to_anchor=(leg_xy[0] / W, 1 - leg_xy[1] / H),
                     bbox_transform=fig.transFigure, fontsize=8.5, frameon=True, fancybox=False,
                     edgecolor="black", framealpha=1, handlelength=3.6, borderpad=0.5,
                     labelspacing=0.6, handletextpad=0.3, borderaxespad=0)
    leg.get_frame().set_linewidth(0.9)
    return ax


ROW1 = [("コルゲート(東)", C_EAST, "o", C_EAST, 3),
        ("コルゲート(西)", C_WEST, "D", "black", 2.4),
        ("プラント原水", C_RAW, "s", C_RAW, 2.8)]
ROW2 = [("プラント処理水", C_TREAT, "^", C_TREAT, 3),
        ("調整池放流水", C_POND, "s", C_POND, 2.8)]
ROW3 = [("新滝ヶ洞溜池(流入口)", C_IN, "x", C_IN, 3.5),
        ("新滝ヶ洞溜池(放流後)", C_OUT, "*", C_OUT, 4)]


def pack(styles, data):
    return [(v, c, m, mc, ms, lab) for (lab, c, m, mc, ms), v in zip(styles, data)]


COLS = [
    dict(name="浮遊物質", x0=72, x1=910, x1b=913, rows=[(20, 233), (321, 530), (618, 847), (932, 1091)],
         fx=(9, 957), fy=[(7, 298), (307, 597), (607, 913), (923, 1145)],
         data=[(SS_EAST, SS_WEST, SS_RAW), (SS_TREAT, SS_POND), (SS_IN, SS_OUT)],
         ymax=900, yt=list(range(0, 901, 100)), yl=[str(v) for v in range(0, 901, 100)],
         ylabel="浮遊物質(mg/l)", ylx=-0.064, title_x=926, title_dy=39,
         legs=[(543, 14), (543, 312), (545, 622), (273, 952)], rlab=1.06),
    dict(name="銅", x0=1018, x1=1859, x1b=1860, rows=[(21, 233), (322, 531), (619, 848), (932, 1091)],
         fx=(966, 1914), fy=[(7, 298), (307, 597), (607, 913), (923, 1145)],
         data=[(CU_EAST, CU_WEST, CU_RAW), (CU_TREAT, CU_POND), (CU_IN, CU_OUT)],
         ymax=1.0, yt=[0, 0.2, 0.4, 0.6, 0.8, 1.0], yl=["0. 0", "0. 2", "0. 4", "0. 6", "0. 8", "1. 0"],
         ylabel="銅(mg/l)", ylx=-0.054, title_x=1866, title_dy=20,
         legs=[(1500, 10), (1503, 310), (1493, 622), (1090, 952)], rlab=1.06),
    dict(name="亜鉛", x0=1988, x1=2827, x1b=2827, rows=[(15, 230), (316, 526), (614, 843), (931, 1090)],
         fx=(1923, 2870), fy=[(5, 295), (303, 593), (603, 912), (922, 1145)],
         data=[(ZN_EAST, ZN_WEST, ZN_RAW), (ZN_TREAT, ZN_POND), (ZN_IN, ZN_OUT)],
         ymax=5.0, yt=[0, 1, 2, 3, 4, 5], yl=["0. 0", "1. 0", "2. 0", "3. 0", "4. 0", "5. 0"],
         ylabel="亜鉛(mg/l)", ylx=-0.067, title_x=2837, title_dy=36,
         legs=[(2469, 5), (2470, 306), (2465, 616), (2065, 952)], rlab=1.042),
]

for col in COLS:
    for fy in col["fy"]:
        frame(col["fx"][0], fy[0], col["fx"][1], fy[1])
    for r, styles in enumerate([ROW1, ROW2, ROW3]):
        y0, y1 = col["rows"][r]
        quality_panel((col["x0"], y0, col["x1"], y1), pack(styles, col["data"][r]),
                      col["ymax"], col["yt"], col["yl"], col["ylabel"], (col["ylx"], 0.6),
                      col["legs"][r])
        box_text(col["title_x"], col["fy"][r][0] + col["title_dy"], col["name"], 9.5)
    y0, y1 = col["rows"][3]
    flow_panel((col["x0"], y0, col["x1b"], y1), col["legs"][3], col["rlab"])

# event markers: vertical line, arrow and label (figure pixel positions)
EVENTS = [(225, 15, 253, "覆土後", 288, 17, 11), (726, 14, 752, "新プラント稼働", 803, 15, 10.5),
          (1171, 13, 1200, "覆土後", 1237, 16, 11), (1677, 13, 1705, "新プラント稼働", 1752, 14, 10.5),
          (2140, 7, 2168, "覆土後", 2203, 10, 11), (2645, 7, 2670, "新プラント稼働", 2722, 10, 10.5)]
for lx, ay, ax_end, text, tx, ty, fs in EVENTS:
    fig.add_artist(Line2D([lx / W, lx / W], [1 - ay / H, 0], transform=fig.transFigure,
                          color="black", lw=1.2, zorder=4))
    fig.add_artist(FancyArrowPatch((lx / W, 1 - ay / H), (ax_end / W, 1 - ay / H),
                                   transform=fig.transFigure, arrowstyle="-|>",
                                   mutation_scale=9, color="black", lw=1.2, zorder=4))
    fig.text(tx / W, 1 - ty / H, text, ha="center", va="center", fontsize=fs, zorder=6,
             bbox=dict(boxstyle="square,pad=0.45", fc="white", ec="none"))

fig.savefig("out.png", dpi=100, facecolor="white")
